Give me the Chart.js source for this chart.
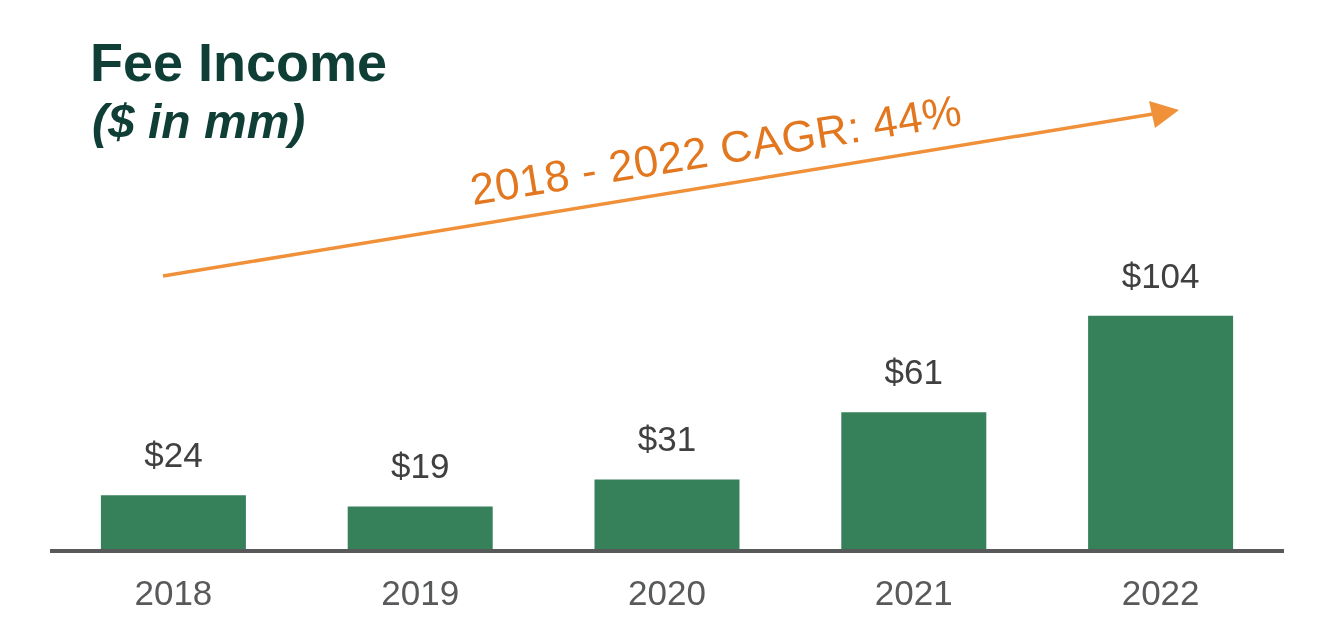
<!DOCTYPE html>
<html>
<head>
<meta charset="utf-8">
<script src="https://cdn.jsdelivr.net/npm/chart.js@4.4.1/dist/chart.umd.min.js"></script>
<style>
  html, body { margin: 0; padding: 0; background: #ffffff; }
  #wrap { position: relative; width: 1335px; height: 644px; overflow: hidden; font-family: "Liberation Sans", Arial, sans-serif; }
  #c { position: absolute; left: 0; top: 0; }
  .title { position: absolute; left: 90px; top: 35px; font-size: 54px; line-height: 1; font-weight: bold; color: #0f3e36; white-space: nowrap; }
  .subtitle { position: absolute; left: 92px; top: 98px; font-size: 48px; line-height: 1; font-weight: bold; font-style: italic; color: #0f3e36; white-space: nowrap; }
  .cagr { position: absolute; left: 473px; top: 167.8px; font-size: 44px; letter-spacing: 0.5px; line-height: 1; color: #e2771f; white-space: nowrap; transform-origin: 0 37.2px; transform: rotate(-9.3deg); }
  #arrow { position: absolute; left: 0; top: 0; }
</style>
</head>
<body>
<div id="wrap">
  <canvas id="c" width="1335" height="644"></canvas>
  <svg id="arrow" width="1335" height="644">
    <line x1="163" y1="276" x2="1156" y2="113.5" stroke="#f0913a" stroke-width="3.5" />
    <polygon points="1179,110 1149,101 1155,128" fill="#f0913a" />
  </svg>
  <div class="title">Fee Income</div>
  <div class="subtitle">($ in mm)</div>
  <div class="cagr">2018 - 2022 CAGR: 44%</div>
</div>
<script>
const categories = ["2018", "2019", "2020", "2021", "2022"];
const feeIncome = [24, 19, 31, 61, 104];
const valueLabels = ["$24", "$19", "$31", "$61", "$104"];

const labelPlugin = {
  id: 'labelsAndBaseline',
  afterDatasetsDraw(chart) {
    const ctx = chart.ctx;
    const area = chart.chartArea;
    ctx.save();
    ctx.strokeStyle = '#58595b';
    ctx.lineWidth = 4;
    ctx.beginPath();
    ctx.moveTo(area.left, area.bottom + 2);
    ctx.lineTo(area.right, area.bottom + 2);
    ctx.stroke();
    const meta = chart.getDatasetMeta(0);
    ctx.fillStyle = '#404040';
    ctx.font = '35px "Liberation Sans", Arial, sans-serif';
    ctx.textAlign = 'center';
    ctx.textBaseline = 'alphabetic';
    meta.data.forEach((bar, i) => {
      ctx.fillText(valueLabels[i], bar.x, bar.y - 28);
    });
    ctx.restore();
  }
};

new Chart(document.getElementById('c'), {
  type: 'bar',
  data: {
    labels: categories,
    datasets: [{
      data: feeIncome,
      backgroundColor: '#36805a',
      borderWidth: 0,
      categoryPercentage: 1.0,
      barPercentage: 0.5875
    }]
  },
  options: {
    responsive: false,
    animation: false,
    devicePixelRatio: 1,
    layout: { padding: { left: 50, right: 51, top: 235, bottom: 0 } },
    plugins: { legend: { display: false }, tooltip: { enabled: false }, title: { display: false } },
    scales: {
      x: {
        grid: { display: false, drawTicks: false },
        border: { display: false },
        ticks: {
          color: '#58595b',
          padding: 25,
          font: { family: '"Liberation Sans", Arial, sans-serif', size: 35 },
          maxRotation: 0
        },
        afterFit(scale) { scale.height = 95; }
      },
      y: {
        display: false,
        min: 0,
        max: 140
      }
    }
  },
  plugins: [labelPlugin]
});
</script>
</body>
</html>
